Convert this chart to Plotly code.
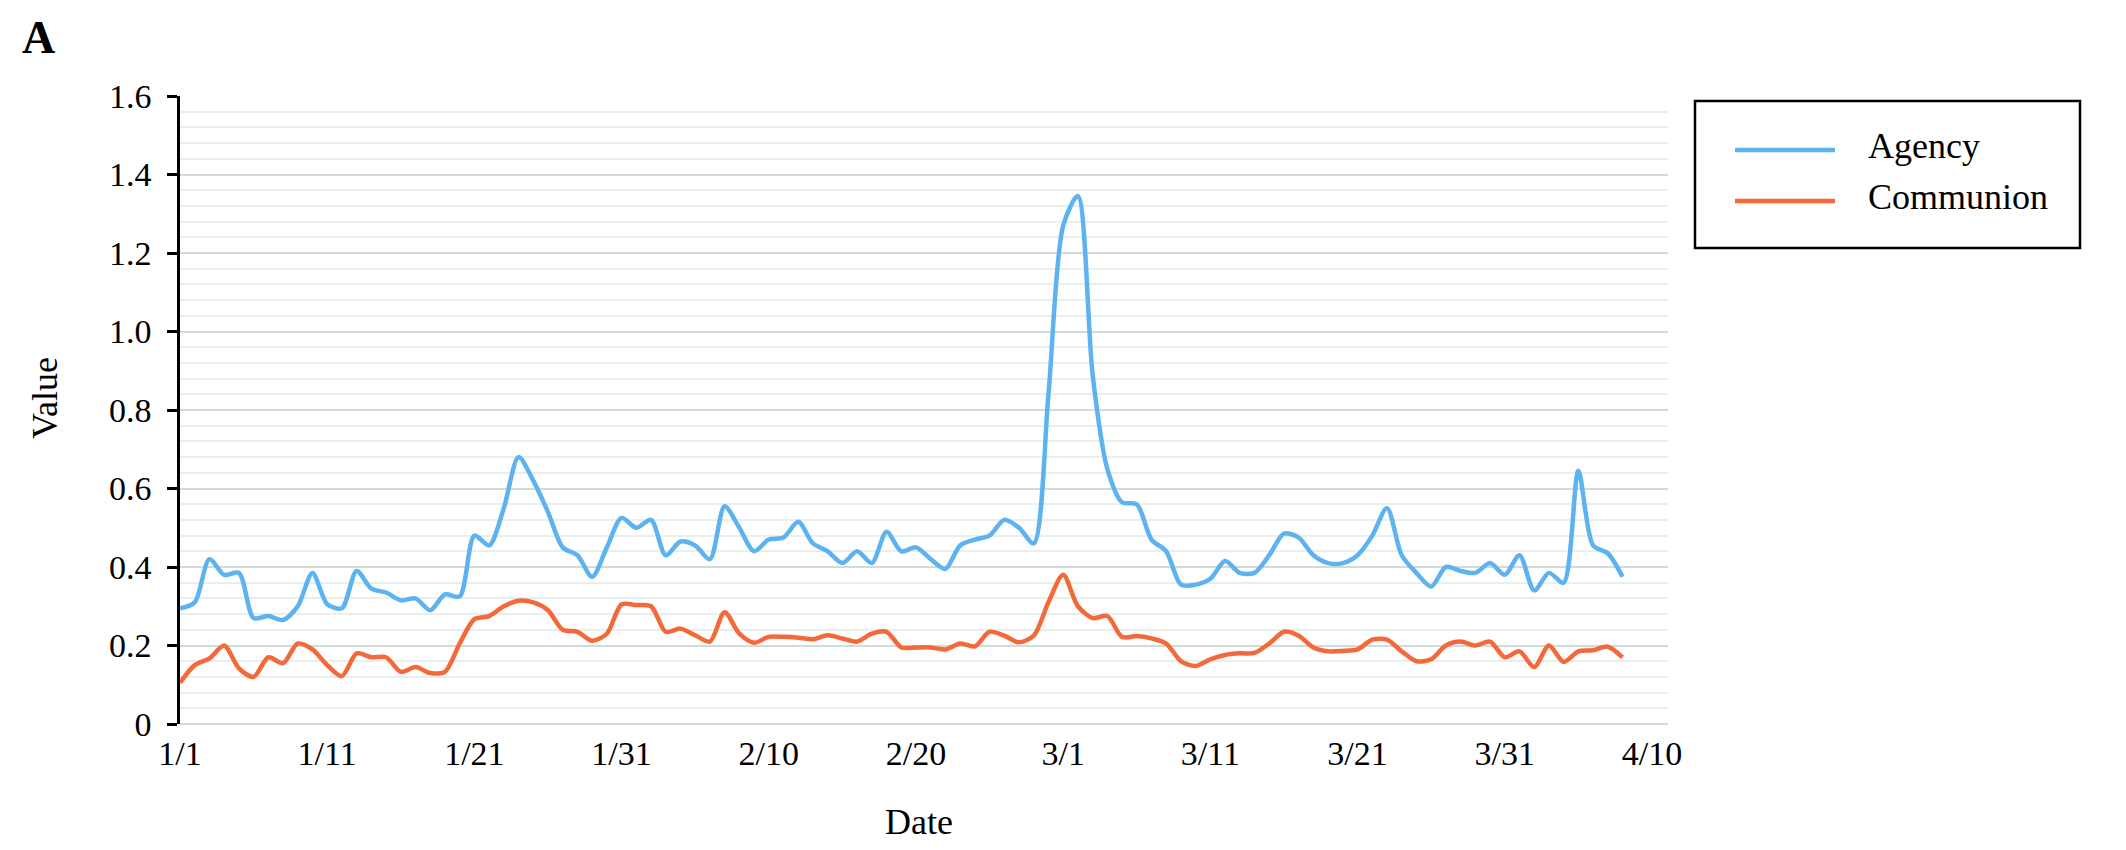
import pandas as pd
import plotly.graph_objects as go

# ---- data ----
start_date = "2020-01-01"
agency = [
    0.295, 0.31, 0.42, 0.38, 0.385, 0.27, 0.275, 0.265, 0.30, 0.385,
    0.305, 0.295, 0.39, 0.345, 0.335, 0.315, 0.32, 0.29, 0.33, 0.325,
    0.48, 0.455, 0.55, 0.68, 0.62, 0.54, 0.45, 0.43, 0.375, 0.45,
    0.525, 0.50, 0.52, 0.43, 0.465, 0.455, 0.42, 0.555, 0.50, 0.44,
    0.47, 0.475, 0.515, 0.46, 0.44, 0.41, 0.44, 0.41, 0.49, 0.44,
    0.45, 0.42, 0.395, 0.455, 0.47, 0.48, 0.52, 0.50, 0.46, 0.84,
    1.27, 1.345, 0.89, 0.65, 0.565, 0.56, 0.47, 0.44, 0.355, 0.355,
    0.37, 0.415, 0.385, 0.385, 0.43, 0.485, 0.475, 0.43, 0.41, 0.41,
    0.43, 0.48, 0.55, 0.43, 0.385, 0.35, 0.40, 0.39, 0.385, 0.41,
    0.38, 0.43, 0.34, 0.385, 0.36, 0.645, 0.455, 0.435, 0.375,
]
communion = [
    0.105, 0.15, 0.167, 0.20, 0.142, 0.12, 0.17, 0.155, 0.205, 0.19,
    0.15, 0.122, 0.18, 0.17, 0.17, 0.133, 0.145, 0.13, 0.133, 0.205,
    0.267, 0.275, 0.30, 0.314, 0.31, 0.29, 0.24, 0.235, 0.212, 0.23,
    0.305, 0.303, 0.30, 0.235, 0.243, 0.226, 0.21, 0.285, 0.23, 0.207,
    0.222, 0.222, 0.22, 0.216, 0.226, 0.218, 0.21, 0.23, 0.235, 0.195,
    0.195, 0.195, 0.19, 0.205, 0.198, 0.235, 0.225, 0.208, 0.225, 0.31,
    0.38, 0.30, 0.27, 0.275, 0.222, 0.224, 0.218, 0.205, 0.16, 0.148,
    0.165, 0.176, 0.18, 0.181, 0.205, 0.235, 0.225, 0.195, 0.185, 0.186,
    0.19, 0.215, 0.215, 0.185, 0.16, 0.165, 0.20, 0.21, 0.20, 0.21,
    0.17, 0.185, 0.145, 0.20, 0.158, 0.185, 0.188, 0.197, 0.17,
]
tick_labels = ["1/1", "1/11", "1/21", "1/31", "2/10", "2/20",
               "3/1", "3/11", "3/21", "3/31", "4/10"]
y_ticks = [0, 0.2, 0.4, 0.6, 0.8, 1.0, 1.2, 1.4, 1.6]
y_tick_text = ["0", "0.2", "0.4", "0.6", "0.8", "1.0", "1.2", "1.4", "1.6"]
series_names = ["Agency", "Communion"]

# ---- styling ----
BLUE = "#5DB2F0"
ORANGE = "#F4693A"
FONT = "Liberation Serif"
MAJOR = "#D2DBD9"
MINOR = "#E9EFED"

dates = pd.date_range(start_date, periods=len(agency), freq="D")
tick_dates = pd.date_range(start_date, periods=len(tick_labels), freq="10D")

fig = go.Figure()
for name, vals, col in [(series_names[0], agency, BLUE),
                        (series_names[1], communion, ORANGE)]:
    fig.add_trace(go.Scatter(
        x=dates, y=vals, mode="lines", name=name,
        line=dict(color=col, width=4.5, shape="spline", smoothing=0.8),
        showlegend=False,
    ))

W, H = 2126, 850
L, R, T, B = 180, 1668, 96, 724

def px(x):
    return (x - L) / (R - L)

def py(y):
    return (B - y) / (B - T)

fig.update_layout(
    width=W, height=H,
    margin=dict(l=L, r=W - R, t=T, b=H - B),
    paper_bgcolor="white", plot_bgcolor="white",
    font=dict(family=FONT, size=34, color="black"),
    xaxis=dict(
        type="date",
        range=[pd.Timestamp(start_date), pd.Timestamp("2020-04-11 02:10")],
        tickvals=tick_dates, ticktext=tick_labels,
        showgrid=False, zeroline=False, showline=False,
        ticks="", ticklabelstandoff=6,
        tickfont=dict(family=FONT, size=34, color="black"),
    ),
    yaxis=dict(
        range=[0, 1.6],
        tickvals=y_ticks, ticktext=y_tick_text,
        showgrid=True, gridcolor=MAJOR, gridwidth=2,
        zeroline=True, zerolinecolor=MAJOR, zerolinewidth=2,
        showline=True, linecolor="black", linewidth=2.5,
        ticks="outside", ticklen=10, tickwidth=2.5, tickcolor="black",
        ticklabelstandoff=9,
        tickfont=dict(family=FONT, size=34, color="black"),
        minor=dict(dtick=0.04, showgrid=True, gridcolor=MINOR,
                   gridwidth=1.5, ticks=""),
    ),
)

# legend box drawn to match the reference's long legend lines
shapes = [
    dict(type="rect", xref="paper", yref="paper",
         x0=px(1695), x1=px(2080), y0=py(248), y1=py(101),
         line=dict(color="black", width=2.5), fillcolor="white"),
    dict(type="line", xref="paper", yref="paper",
         x0=px(1735), x1=px(1835), y0=py(150), y1=py(150),
         line=dict(color=BLUE, width=4.5)),
    dict(type="line", xref="paper", yref="paper",
         x0=px(1735), x1=px(1835), y0=py(201), y1=py(201),
         line=dict(color=ORANGE, width=4.5)),
]
fig.update_layout(shapes=shapes)

annotations = [
    dict(text=series_names[0], xref="paper", yref="paper",
         x=px(1866), y=py(146), xanchor="left", yanchor="middle",
         showarrow=False, font=dict(family=FONT, size=36, color="black")),
    dict(text=series_names[1], xref="paper", yref="paper",
         x=px(1866), y=py(197), xanchor="left", yanchor="middle",
         showarrow=False, font=dict(family=FONT, size=36, color="black")),
    dict(text="Value", xref="paper", yref="paper",
         x=px(45), y=py(398), xanchor="center", yanchor="middle",
         textangle=-90, showarrow=False,
         font=dict(family=FONT, size=36, color="black")),
    dict(text="Date", xref="paper", yref="paper",
         x=px(919), y=py(822), xanchor="center", yanchor="middle",
         showarrow=False, font=dict(family=FONT, size=36, color="black")),
    dict(text="<b>A</b>", xref="paper", yref="paper",
         x=px(20), y=py(38), xanchor="left", yanchor="middle",
         showarrow=False, font=dict(family=FONT, size=46, color="black")),
]
fig.update_layout(annotations=annotations)

fig.write_html("out.html")
